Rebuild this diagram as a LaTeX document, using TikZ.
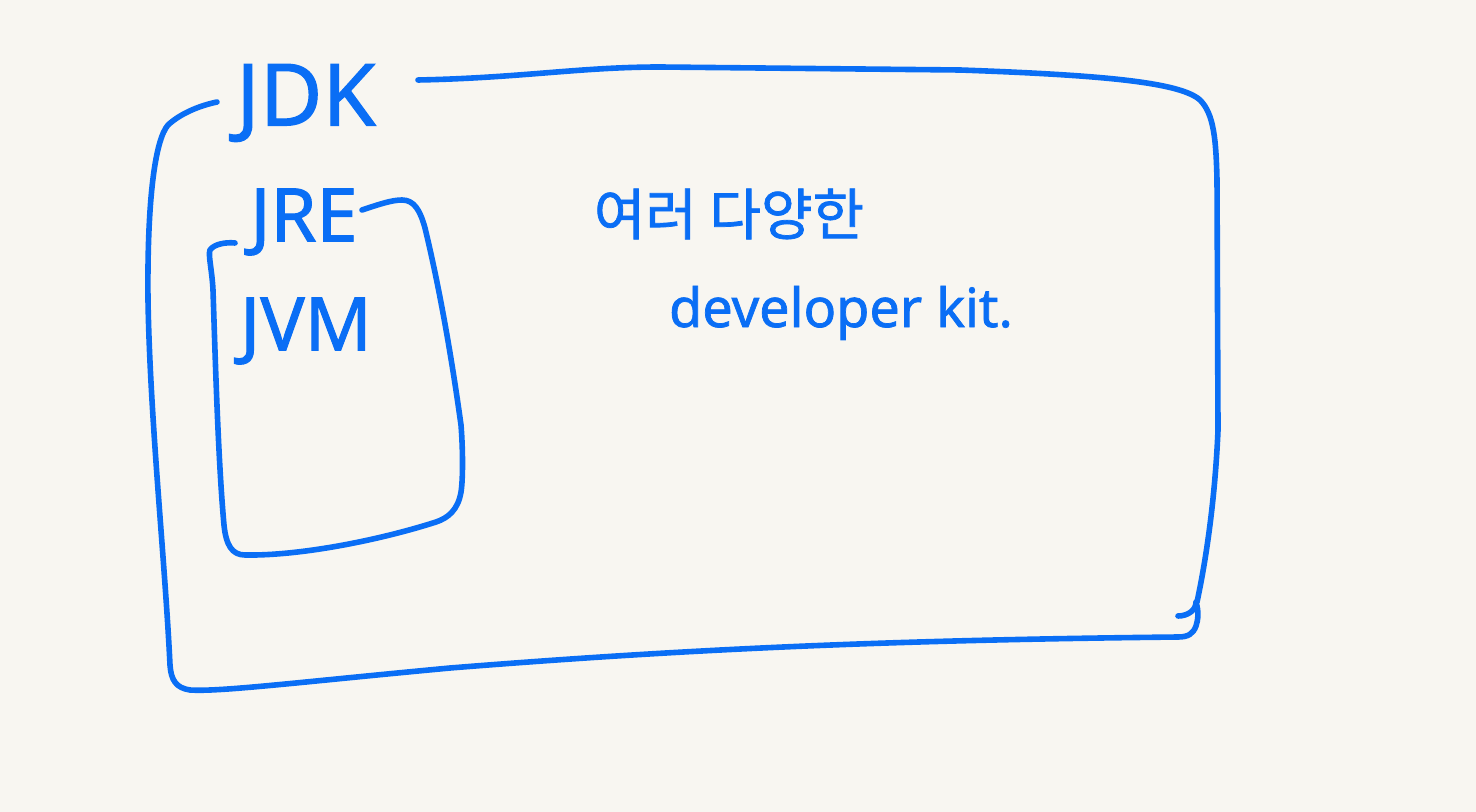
\documentclass[tikz,border=0pt]{standalone}
\usepackage{fontspec}
\setmainfont{Noto Sans}
\newfontfamily\penfont{Noto Sans}[FakeBold=1.3]
\newfontfamily\krfont{Noto Sans CJK KR}[FakeBold=1.3]
\definecolor{paper}{HTML}{F8F6F1}
\definecolor{pen}{HTML}{0A6EF5}
\begin{document}
\begin{tikzpicture}[x=0.5pt,y=-0.5pt,
  ink/.style={draw=pen,line width=2.8pt,line cap=round,line join=round},
  lbl/.style={text=pen,inner sep=0pt}]
\fill[paper] (0,0) rectangle (1476,812);
\useasboundingbox (0,0) rectangle (1476,812);
% JDK outer box
\draw[ink] (418,80) .. controls (520,78) and (580,67) .. (660,67)
  -- (960,70) .. controls (1100,75) and (1180,82) .. (1200,100)
  .. controls (1214,114) and (1216,140) .. (1217,180)
  -- (1218,430) .. controls (1215,500) and (1206,560) .. (1197,602);
\draw[ink] (1178,616) .. controls (1188,616) and (1196,610) .. (1196,602)
  .. controls (1199,612) and (1198,620) .. (1196,626)
  .. controls (1193,634) and (1188,637) .. (1178,637)
  .. controls (900,640) and (700,648) .. (450,668)
  .. controls (300,682) and (220,692) .. (190,690)
  .. controls (176,688) and (171,680) .. (170,665)
  .. controls (165,560) and (150,420) .. (148,300)
  .. controls (147,200) and (155,140) .. (168,125)
  .. controls (180,114) and (198,106) .. (217,102);
% JRE inner box
\draw[ink] (362,210) .. controls (380,204) and (392,200) .. (402,200)
  .. controls (414,200) and (420,210) .. (425,228)
  .. controls (440,290) and (452,360) .. (461,425)
  .. controls (463,450) and (463,480) .. (461,492)
  .. controls (458,510) and (448,518) .. (436,522)
  .. controls (380,540) and (300,556) .. (245,555)
  .. controls (232,555) and (226,545) .. (224,525)
  .. controls (218,460) and (215,350) .. (213,290)
  .. controls (212,270) and (208,255) .. (210,250)
  .. controls (214,244) and (226,242) .. (235,243);
% labels
\node[lbl,font=\penfont\fontsize{43}{43}\selectfont] (jdk) at (306,103) {JDK};
\node[lbl,font=\penfont\fontsize{37}{37}\selectfont] (jre) at (304,222) {JRE};
\node[lbl,font=\penfont\fontsize{37}{37}\selectfont] (jvm) at (306,331) {JVM};
\node[lbl,font=\krfont\fontsize{28}{28}\selectfont] (kr) at (729,214) {여러 다양한};
\node[lbl,font=\penfont\fontsize{27}{27}\selectfont] (kit) at (841,313) {developer kit.};
\end{tikzpicture}
\end{document}
